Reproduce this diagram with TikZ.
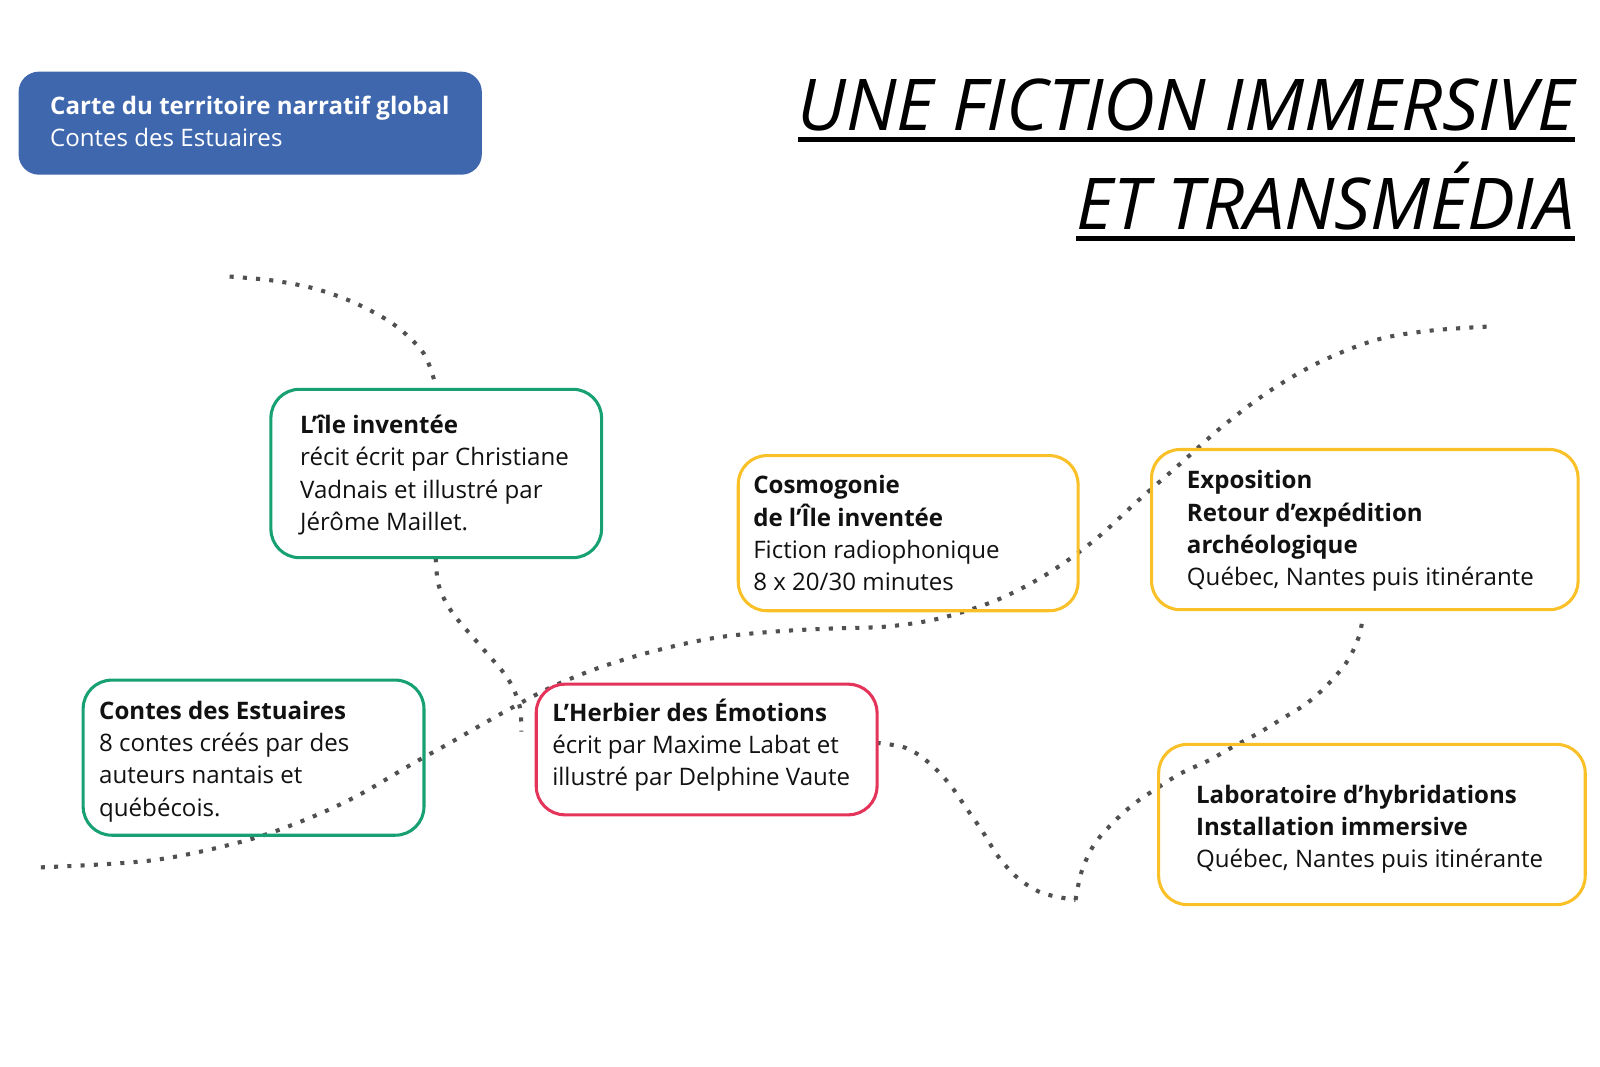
\documentclass[tikz,border=0pt]{standalone}
\usepackage{fontspec}
\setmainfont{Open Sans}
\newfontfamily\titlefont{Open Sans}
\usepackage{graphicx}
\definecolor{bluefill}{RGB}{63,103,174}
\definecolor{greenline}{RGB}{22,160,115}
\definecolor{redline}{RGB}{228,52,90}
\definecolor{yellowline}{RGB}{250,192,40}
\definecolor{dotgray}{RGB}{80,80,80}
\definecolor{ink}{RGB}{17,17,17}
\begin{document}
\begin{tikzpicture}[x=1pt,y=-1pt,
  frame/.style={draw, line width=3pt, rounded corners=28pt, inner sep=0pt, anchor=north west},
  gbox/.style={frame, draw=greenline},
  rbox/.style={frame, draw=redline},
  ybox/.style={frame, draw=yellowline},
  bbox/.style={fill=bluefill, rounded corners=20pt, inner sep=0pt, anchor=north west},
  txt/.style={inner sep=0pt, anchor=base west, text=ink, font=\fontsize{23.6}{31.6}\selectfont},
  ttl/.style={inner sep=0pt, anchor=base east, text=black, font=\titlefont\itshape\fontsize{70}{80}\selectfont},
  uline/.style={line width=5pt, black},
  dots/.style={draw=dotgray, line width=4pt, dash pattern=on 4pt off 9pt}
]
\useasboundingbox (0,0) rectangle (1568,1045);

% dotted curves
\draw[dots] plot[smooth, tension=0.55] coordinates {(225,271) (268,275) (309,283) (348,297) (386,318) (415,346) (427,378)};
\draw[dots] plot[smooth, tension=0.55] coordinates {(427,547) (430,574) (443,600) (470,632) (497,664) (509,691) (511,717)};
\draw[dots] plot[smooth, tension=0.55] coordinates {(40,850) (150,843) (240,824) (300,803) (350,780) (405,748) (441,728) (490,700) (541,673) (591,653) (645,637) (701,625) (758,619) (813,616) (869,614) (921,606) (977,588) (1027,562) (1073,529) (1116,490) (1156,455) (1199,417) (1246,382) (1295,354) (1349,333) (1402,324) (1459,320)};
\draw[dots] plot[smooth, tension=0.55] coordinates {(859,728) (888,733) (911,748) (931,769) (947,792) (963,815) (978,839) (997,860) (1021,875) (1054,882)};
\draw[dots] plot[smooth, tension=0.55] coordinates {(1054,882) (1060,854) (1072,828) (1090,807) (1111,788) (1133,773) (1157,758) (1185,745) (1208,732) (1234,718) (1257,704) (1281,689) (1302,670) (1321,647) (1332,623) (1335,607)};

% header box
\node[bbox, minimum width=454pt, minimum height=101pt] (head) at (18,70) {};
\node[txt, text=white] (head-t) at (49,112) {\begin{tabular}[t]{@{}l@{}}\textbf{Carte du territoire narratif global}\\ Contes des Estuaires\end{tabular}};

% title
\node[ttl] (t1) at (1543,128) {\resizebox{761pt}{\height}{UNE FICTION IMMERSIVE}};
\node[ttl] (t2) at (1543,225) {\resizebox{488pt}{\height}{ET TRANSMÉDIA}};
\draw[uline] ([yshift=-9pt]t1.base west) -- ([yshift=-9pt]t1.base east);
\draw[uline] ([yshift=-9pt]t2.base west) -- ([yshift=-9pt]t2.base east);

% boxes
\node[gbox, minimum width=324pt, minimum height=165pt] (ile) at (264,380) {};
\node[txt] (ile-t) at (294,425) {\begin{tabular}[t]{@{}l@{}}\textbf{L’île inventée}\\ récit écrit par Christiane\\ Vadnais et illustré par\\ Jérôme Maillet.\end{tabular}};

\node[gbox, minimum width=334pt, minimum height=152pt] (contes) at (80,665) {};
\node[txt] (contes-t) at (97,705) {\begin{tabular}[t]{@{}l@{}}\textbf{Contes des Estuaires}\\ 8 contes créés par des\\ auteurs nantais et\\ québécois.\end{tabular}};

\node[rbox, minimum width=334pt, minimum height=128pt] (herbier) at (524,669) {};
\node[txt] (herbier-t) at (541,707) {\begin{tabular}[t]{@{}l@{}}\textbf{L’Herbier des Émotions}\\ écrit par Maxime Labat et\\ illustré par Delphine Vaute\end{tabular}};

\node[ybox, minimum width=333pt, minimum height=152pt] (cosmo) at (722,445) {};
\node[txt] (cosmo-t) at (738,484) {\begin{tabular}[t]{@{}l@{}}\textbf{Cosmogonie}\\ \textbf{de l’Île inventée}\\ Fiction radiophonique\\ 8 x 20/30 minutes\end{tabular}};

\node[ybox, minimum width=418pt, minimum height=157pt] (expo) at (1127,439) {};
\node[txt] (expo-t) at (1163,479) {\begin{tabular}[t]{@{}l@{}}\textbf{Exposition}\\ \textbf{Retour d’expédition}\\ \textbf{archéologique}\\ Québec, Nantes puis itinérante\end{tabular}};

\node[ybox, minimum width=418pt, minimum height=157pt] (labo) at (1134,728) {};
\node[txt] (labo-t) at (1172,787) {\begin{tabular}[t]{@{}l@{}}\textbf{Laboratoire d’hybridations}\\ \textbf{Installation immersive}\\ Québec, Nantes puis itinérante\end{tabular}};
\end{tikzpicture}
\end{document}
